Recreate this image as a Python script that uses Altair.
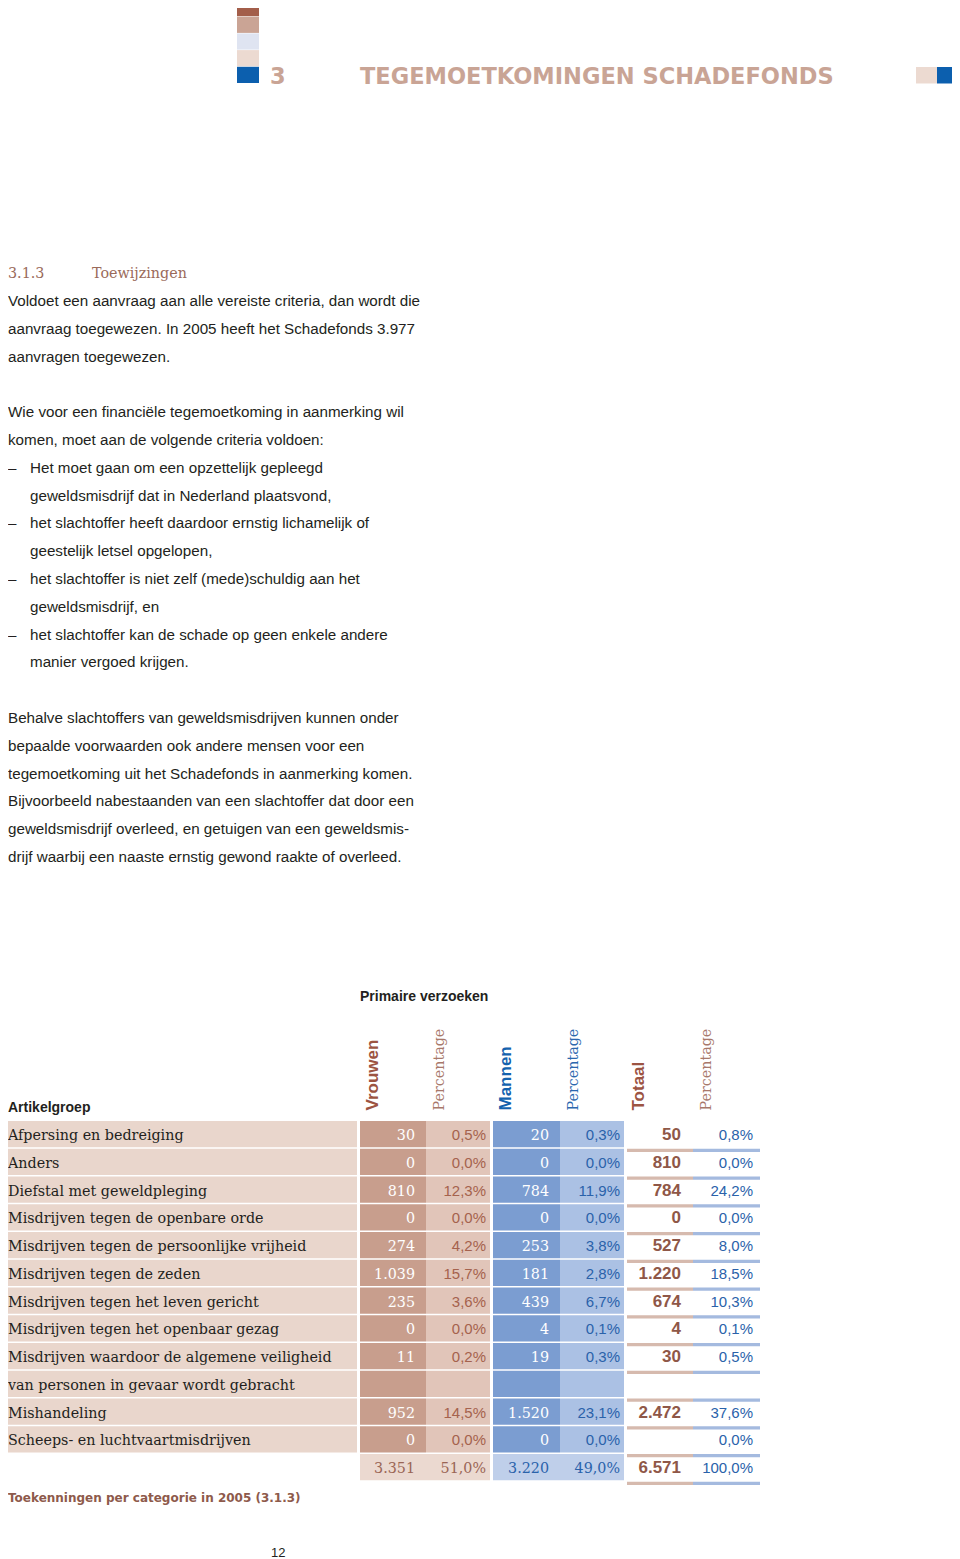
import altair as alt
import pandas as pd

# ------------------------------------------------------------------ values
chapter_no = "3"
chapter_title = "TEGEMOETKOMINGEN SCHADEFONDS"
section_no = "3.1.3"
section_title = "Toewijzingen"

# body text: (line index, bullet?, text)
body_lines = [
    (0, False, "Voldoet een aanvraag aan alle vereiste criteria, dan wordt die"),
    (1, False, "aanvraag toegewezen. In 2005 heeft het Schadefonds 3.977"),
    (2, False, "aanvragen toegewezen."),
    (4, False, "Wie voor een financiële tegemoetkoming in aanmerking wil"),
    (5, False, "komen, moet aan de volgende criteria voldoen:"),
    (6, True, "Het moet gaan om een opzettelijk gepleegd"),
    (7, None, "geweldsmisdrijf dat in Nederland plaatsvond,"),
    (8, True, "het slachtoffer heeft daardoor ernstig lichamelijk of"),
    (9, None, "geestelijk letsel opgelopen,"),
    (10, True, "het slachtoffer is niet zelf (mede)schuldig aan het"),
    (11, None, "geweldsmisdrijf, en"),
    (12, True, "het slachtoffer kan de schade op geen enkele andere"),
    (13, None, "manier vergoed krijgen."),
    (15, False, "Behalve slachtoffers van geweldsmisdrijven kunnen onder"),
    (16, False, "bepaalde voorwaarden ook andere mensen voor een"),
    (17, False, "tegemoetkoming uit het Schadefonds in aanmerking komen."),
    (18, False, "Bijvoorbeeld nabestaanden van een slachtoffer dat door een"),
    (19, False, "geweldsmisdrijf overleed, en getuigen van een geweldsmis-"),
    (20, False, "drijf waarbij een naaste ernstig gewond raakte of overleed."),
]

table_title = "Primaire verzoeken"
row_header = "Artikelgroep"
column_headers = ["Vrouwen", "Percentage", "Mannen", "Percentage", "Totaal", "Percentage"]
categories = [
    "Afpersing en bedreiging",
    "Anders",
    "Diefstal met geweldpleging",
    "Misdrijven tegen de openbare orde",
    "Misdrijven tegen de persoonlijke vrijheid",
    "Misdrijven tegen de zeden",
    "Misdrijven tegen het leven gericht",
    "Misdrijven tegen het openbaar gezag",
    "Misdrijven waardoor de algemene veiligheid",
    "van personen in gevaar wordt gebracht",
    "Mishandeling",
    "Scheeps- en luchtvaartmisdrijven",
]
vrouwen = [30, 0, 810, 0, 274, 1039, 235, 0, 11, None, 952, 0]
vrouwen_pct = [0.5, 0.0, 12.3, 0.0, 4.2, 15.7, 3.6, 0.0, 0.2, None, 14.5, 0.0]
mannen = [20, 0, 784, 0, 253, 181, 439, 4, 19, None, 1520, 0]
mannen_pct = [0.3, 0.0, 11.9, 0.0, 3.8, 2.8, 6.7, 0.1, 0.3, None, 23.1, 0.0]
totaal = [50, 810, 784, 0, 527, 1220, 674, 4, 30, None, 2472, None]
totaal_pct = [0.8, 0.0, 24.2, 0.0, 8.0, 18.5, 10.3, 0.1, 0.5, None, 37.6, 0.0]
som_vrouwen, som_vrouwen_pct = 3351, 51.0
som_mannen, som_mannen_pct = 3220, 49.0
som_totaal, som_totaal_pct = 6571, 100.0
caption = "Toekenningen per categorie in 2005 (3.1.3)"
page_number = "12"


def nl_int(v):
    return None if v is None else f"{v:,}".replace(",", ".")


def nl_pct(v):
    return None if v is None else f"{v:.1f}".replace(".", ",") + "%"


# ------------------------------------------------------------------ layout
W, H = 944, 1551
OX, OY = 8, 8
XS = alt.Scale(domain=[OX, OX + W], range=[0, W], nice=False, zero=False)
YS = alt.Scale(domain=[OY, OY + H], range=[0, H], nice=False, zero=False)

SANS = "Liberation Sans"
SERIF = "DejaVu Serif"
LEFT = 8

C_TEXT = "#231f20"
C_TAN = "#c9a495"
C_BROWN_T = "#a5624d"
C_BLUE = "#2a62aa"


def text_layer(rows, font, size, weight="normal", align="left",
               baseline="alphabetic", angle=0):
    rows = [r for r in rows if r[2] is not None]
    df = pd.DataFrame(rows, columns=["x", "y", "t", "c"])
    kw = dict(font=font, fontSize=size, fontWeight=weight, align=align,
              baseline=baseline)
    if angle:
        kw["angle"] = angle
    return alt.Chart(df).mark_text(**kw).encode(
        x=alt.X("x:Q", scale=XS, axis=None),
        y=alt.Y("y:Q", scale=YS, axis=None),
        text=alt.Text("t:N"),
        color=alt.Color("c:N", scale=None),
    )


def rect_layer(rows):
    df = pd.DataFrame(rows, columns=["x", "x2", "y", "y2", "c"])
    return alt.Chart(df).mark_rect().encode(
        x=alt.X("x:Q", scale=XS, axis=None),
        x2="x2:Q",
        y=alt.Y("y:Q", scale=YS, axis=None),
        y2="y2:Q",
        color=alt.Color("c:N", scale=None),
    )


layers = []

# ---- page header squares
sq = []
stack_cols = ["#a35e4a", "#caa495", "#dfe4f1", "#ecdad1", "#0c5fae"]
for i, c in enumerate(stack_cols):
    y0 = i * 16.7
    sq.append((237, 259, y0, y0 + 16.2, c))
sq.append((916, 937, 67, 83.5, "#ecdad1"))
sq.append((937, 960, 67, 83.5, "#0c5fae"))
layers.append(rect_layer(sq))
layers.append(text_layer([(270, 83.5, chapter_no, C_TAN), (360, 83.5, chapter_title, C_TAN)],
                         "DejaVu Sans", 22.5, weight="bold"))

# ---- section heading + body text
BASE0, LH = 306.0, 27.8
layers.append(text_layer([(LEFT, BASE0 - LH, section_no, "#9a6a5a"),
                          (92, BASE0 - LH, section_title, "#9a6a5a")], SERIF, 14.3))
body_rows = []
for idx, bullet, txt in body_lines:
    y = BASE0 + idx * LH
    if bullet is True:
        body_rows.append((LEFT, y, "–", C_TEXT))
        body_rows.append((LEFT + 22, y, txt, C_TEXT))
    elif bullet is None:
        body_rows.append((LEFT + 22, y, txt, C_TEXT))
    else:
        body_rows.append((LEFT, y, txt, C_TEXT))
layers.append(text_layer(body_rows, SANS, 15.2))

# ---- table geometry
TOP0, PITCH, CELL_H = 1121, 27.75, 26.3
COL = {
    "label": (LEFT, 357), "vc": (360, 426), "vp": (426, 490),
    "mc": (493, 560), "mp": (560, 624), "tc": (627, 693), "tp": (693, 760),
}
BG = {"label": "#e9d6cc", "vc": "#c89e8d", "vp": "#e1c5b9",
      "mc": "#7b9dd1", "mp": "#abc1e4"}


def top(r):
    return TOP0 + r * PITCH


rects = []
for r in range(len(categories)):
    for k in ["label", "vc", "vp", "mc", "mp"]:
        rects.append((COL[k][0], COL[k][1], top(r), top(r) + CELL_H, BG[k]))
n = len(categories)
rects.append((COL["vc"][0], COL["vp"][1], top(n), top(n) + CELL_H, "#ebd9d0"))
rects.append((COL["mc"][0], COL["mp"][1], top(n), top(n) + CELL_H, "#bfcfea"))
for r in range(n + 1):
    yb = top(r) + PITCH
    rects.append((COL["tc"][0], COL["tc"][1], yb, yb + 3.3, "#d6baae"))
    rects.append((COL["tp"][0], COL["tp"][1], yb, yb + 3.3, "#a4badf"))
layers.append(rect_layer(rects))

# ---- table titles
layers.append(text_layer([(360, 1001, table_title, C_TEXT),
                          (LEFT, 1112, row_header, C_TEXT)], SANS, 14, weight="bold"))
head_x = [372.5, 440, 506, 573.5, 638.5, 707]
head_c = ["#9c5442", "#a8786a", "#1462ae", "#2b67ae", "#9c5442", "#a8786a"]
bold_heads = [(head_x[i], 1110.5, column_headers[i], head_c[i]) for i in (0, 2, 4)]
serif_heads = [(head_x[i], 1110.5, column_headers[i], head_c[i]) for i in (1, 3, 5)]
layers.append(text_layer(bold_heads, SANS, 17, weight="bold", baseline="middle", angle=270))
layers.append(text_layer(serif_heads, SERIF, 14.3, baseline="middle", angle=270))

# ---- table texts
TXT_OFF = 19
lab_rows, vc_rows, mc_rows, vp_rows, mp_rows, tc_rows, tp_rows = [], [], [], [], [], [], []
for r, cat in enumerate(categories):
    y = top(r) + TXT_OFF
    lab_rows.append((LEFT, y, cat, C_TEXT))
    vc_rows.append((415, y, nl_int(vrouwen[r]), "#ffffff"))
    mc_rows.append((549, y, nl_int(mannen[r]), "#ffffff"))
    vp_rows.append((486, y, nl_pct(vrouwen_pct[r]), C_BROWN_T))
    mp_rows.append((620, y, nl_pct(mannen_pct[r]), C_BLUE))
    tc_rows.append((681, y, nl_int(totaal[r]), "#8f5747"))
    tp_rows.append((753, y, nl_pct(totaal_pct[r]), C_BLUE))
ys = top(n) + TXT_OFF
sum_serif = [
    (415, ys, nl_int(som_vrouwen), "#9a6555"),
    (486, ys, nl_pct(som_vrouwen_pct), "#9a6555"),
    (549, ys, nl_int(som_mannen), C_BLUE),
    (620, ys, nl_pct(som_mannen_pct), C_BLUE),
]
tc_rows.append((681, ys, nl_int(som_totaal), "#8f5747"))
tp_rows.append((753, ys, nl_pct(som_totaal_pct), C_BLUE))

layers.append(text_layer(lab_rows, SERIF, 14.3))
layers.append(text_layer(vc_rows + mc_rows + sum_serif, SERIF, 14.3, align="right"))
layers.append(text_layer(vp_rows + mp_rows + tp_rows, SANS, 15, align="right"))
layers.append(text_layer(tc_rows, SANS, 17, weight="bold", align="right"))

# ---- caption and page number
layers.append(text_layer([(LEFT, 1501.5, caption, "#8e5a4b")], "DejaVu Sans", 12, weight="bold"))
layers.append(text_layer([(271, 1557, page_number, C_TEXT)], SANS, 13))

chart = alt.layer(*layers).properties(
    width=W, height=H, padding=0,
    autosize=alt.AutoSizeParams(type="none"),
    background="white",
).configure_view(stroke=None)

chart.save("out.html", embed_options={"renderer": "svg", "actions": False})
